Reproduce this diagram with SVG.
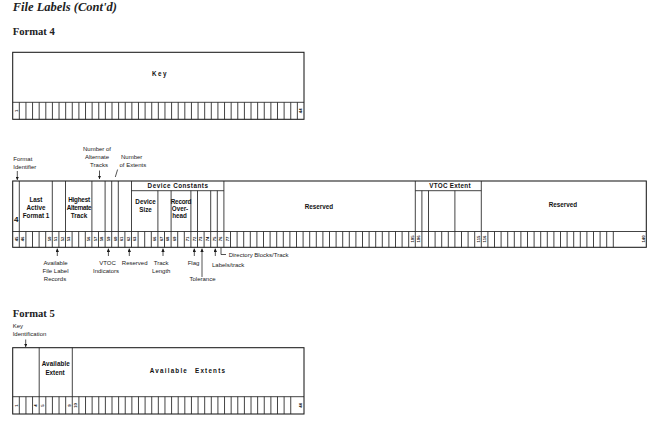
<svg xmlns="http://www.w3.org/2000/svg" width="658" height="444" viewBox="0 0 658 444">
<defs>
<marker id="ah" viewBox="0 0 6 6" refX="6" refY="3" markerWidth="3.4" markerHeight="3.4" orient="auto" markerUnits="userSpaceOnUse"><path d="M0 0L6 3L0 6z" fill="#1a1a1a"/></marker>
<style>
.bd{stroke:#1a1a1a;stroke-width:1.05;fill:none}
.ln{stroke:#222;stroke-width:0.85;fill:none}
.ar{stroke:#1a1a1a;stroke-width:0.75;fill:none}
.lbl{font-family:"Liberation Sans",Arial,sans-serif;font-weight:bold;font-size:6.3px;fill:#111;text-anchor:middle}
.sp{letter-spacing:1.4px}
.ann{font-family:"Liberation Sans",Arial,sans-serif;font-size:6px;fill:#1a1a1a}
.c{text-anchor:middle}
.num{font-family:"Liberation Sans",Arial,sans-serif;font-weight:bold;font-size:4.2px;fill:#222;text-anchor:middle;dominant-baseline:central}
.h1{font-family:"Liberation Serif","Times New Roman",serif;font-style:italic;font-weight:bold;font-size:12.5px;fill:#222}
.h2{font-family:"Liberation Serif","Times New Roman",serif;font-weight:bold;font-size:10.6px;fill:#222}
</style>
</defs>
<rect width="658" height="444" fill="#fff"/>

<text class="h1" x="12.7" y="10.5">File Labels (Cont'd)</text>
<text class="h2" x="12.7" y="35">Format 4</text>
<text class="h2" x="12.7" y="316.5">Format 5</text>

<!-- Format 4 key record -->
<g id="f4-key">
<rect class="bd" x="12.7" y="52.3" width="291.3" height="67"/>
<line class="ln" x1="12.7" y1="102.3" x2="304" y2="102.3"/>
<path class="ln" d="M19.32 102.3v17m6.62-17v17m6.62-17v17m6.62-17v17m6.62-17v17m6.62-17v17m6.62-17v17m6.62-17v17m6.62-17v17m6.62-17v17m6.62-17v17m6.62-17v17m6.62-17v17m6.62-17v17m6.62-17v17m6.62-17v17m6.62-17v17m6.62-17v17m6.62-17v17m6.62-17v17m6.62-17v17m6.62-17v17m6.62-17v17m6.62-17v17m6.62-17v17m6.62-17v17m6.62-17v17m6.62-17v17m6.62-17v17m6.62-17v17m6.62-17v17m6.62-17v17m6.62-17v17m6.62-17v17m6.62-17v17m6.62-17v17m6.62-17v17m6.62-17v17m6.62-17v17m6.62-17v17m6.62-17v17m6.62-17v17m6.62-17v17"/>
<text class="lbl sp" x="160" y="75.5">Key</text>
<text class="num" transform="translate(16,110.8) rotate(-90)">1</text>
<text class="num" transform="translate(300.7,110.8) rotate(-90)">44</text>
</g>

<!-- Format 4 data record -->
<g id="f4-record">
<rect class="bd" x="12.7" y="181" width="633.6" height="66.3"/>
<line class="ln" x1="12.7" y1="231.5" x2="646.3" y2="231.5"/>
<path class="ln" d="M19.3 231.5v15.8m6.6-15.8v15.8m6.6-15.8v15.8m6.6-15.8v15.8m6.6-15.8v15.8m6.6-15.8v15.8m6.6-15.8v15.8m6.6-15.8v15.8m6.6-15.8v15.8m6.6-15.8v15.8m6.6-15.8v15.8m6.6-15.8v15.8m6.6-15.8v15.8m6.6-15.8v15.8m6.6-15.8v15.8m6.6-15.8v15.8m6.6-15.8v15.8m6.6-15.8v15.8m6.6-15.8v15.8m6.6-15.8v15.8m6.6-15.8v15.8m6.6-15.8v15.8m6.6-15.8v15.8m6.6-15.8v15.8m6.6-15.8v15.8m6.6-15.8v15.8m6.6-15.8v15.8m6.6-15.8v15.8m6.6-15.8v15.8m6.6-15.8v15.8m6.6-15.8v15.8m6.6-15.8v15.8m6.6-15.8v15.8m6.6-15.8v15.8m6.6-15.8v15.8m6.6-15.8v15.8m6.6-15.8v15.8m6.6-15.8v15.8m6.6-15.8v15.8m6.6-15.8v15.8m6.6-15.8v15.8m6.6-15.8v15.8m6.6-15.8v15.8m6.6-15.8v15.8m6.6-15.8v15.8m6.6-15.8v15.8m6.6-15.8v15.8m6.6-15.8v15.8m6.6-15.8v15.8m6.6-15.8v15.8m6.6-15.8v15.8m6.6-15.8v15.8m6.6-15.8v15.8m6.6-15.8v15.8m6.6-15.8v15.8m6.6-15.8v15.8m6.6-15.8v15.8m6.6-15.8v15.8m6.6-15.8v15.8m6.6-15.8v15.8m6.6-15.8v15.8m6.6-15.8v15.8m6.6-15.8v15.8m6.6-15.8v15.8m6.6-15.8v15.8m6.6-15.8v15.8m6.6-15.8v15.8m6.6-15.8v15.8m6.6-15.8v15.8m6.6-15.8v15.8m6.6-15.8v15.8m6.6-15.8v15.8m6.6-15.8v15.8m6.6-15.8v15.8m6.6-15.8v15.8m6.6-15.8v15.8m6.6-15.8v15.8m6.6-15.8v15.8m6.6-15.8v15.8m6.6-15.8v15.8m6.6-15.8v15.8m6.6-15.8v15.8m6.6-15.8v15.8m6.6-15.8v15.8m6.6-15.8v15.8m6.6-15.8v15.8m6.6-15.8v15.8m6.6-15.8v15.8m6.6-15.8v15.8m6.6-15.8v15.8m6.6-15.8v15.8"/>
<g class="num">
<text transform="translate(16,239) rotate(-90)">45</text>
<text transform="translate(22.6,239) rotate(-90)">46</text>
<text transform="translate(49,239) rotate(-90)">50</text>
<text transform="translate(55.6,239) rotate(-90)">51</text>
<text transform="translate(62.2,239) rotate(-90)">52</text>
<text transform="translate(68.8,239) rotate(-90)">53</text>
<text transform="translate(88.6,239) rotate(-90)">56</text>
<text transform="translate(95.2,239) rotate(-90)">57</text>
<text transform="translate(101.8,239) rotate(-90)">58</text>
<text transform="translate(108.4,239) rotate(-90)">59</text>
<text transform="translate(115,239) rotate(-90)">60</text>
<text transform="translate(121.6,239) rotate(-90)">61</text>
<text transform="translate(128.2,239) rotate(-90)">62</text>
<text transform="translate(134.8,239) rotate(-90)">63</text>
<text transform="translate(154.6,239) rotate(-90)">66</text>
<text transform="translate(161.2,239) rotate(-90)">67</text>
<text transform="translate(167.8,239) rotate(-90)">68</text>
<text transform="translate(174.4,239) rotate(-90)">69</text>
<text transform="translate(187.6,239) rotate(-90)">71</text>
<text transform="translate(194.2,239) rotate(-90)">72</text>
<text transform="translate(200.8,239) rotate(-90)">73</text>
<text transform="translate(207.4,239) rotate(-90)">74</text>
<text transform="translate(214,239) rotate(-90)">75</text>
<text transform="translate(220.6,239) rotate(-90)">76</text>
<text transform="translate(227.2,239) rotate(-90)">77</text>
<text transform="translate(412,239) rotate(-90)">105</text>
<text transform="translate(418.6,239) rotate(-90)">106</text>
<text transform="translate(478,239) rotate(-90)">115</text>
<text transform="translate(484.6,239) rotate(-90)">116</text>
<text transform="translate(643,239) rotate(-90)">140</text>
</g>
</g>

<g id="f4-format-id">
<line class="ln" x1="19.3" y1="181" x2="19.3" y2="231.5"/>
<text class="lbl" x="16.2" y="222" style="font-size:8px">4</text>
</g>
<g id="f4-last-active">
<line class="ln" x1="52.3" y1="181" x2="52.3" y2="231.5"/>
<text class="lbl" x="36" y="201.5">Last</text>
<text class="lbl" x="36" y="209.7">Active</text>
<text class="lbl" x="36" y="217.9">Format 1</text>
</g>
<g id="f4-avail-records">
<line class="ln" x1="65.5" y1="181" x2="65.5" y2="231.5"/>
</g>
<g id="f4-highest-alt">
<line class="ln" x1="91.9" y1="181" x2="91.9" y2="231.5"/>
<text class="lbl" x="79" y="201.5" style="letter-spacing:-0.2px">Highest</text>
<text class="lbl" x="79" y="209.7" style="letter-spacing:-0.3px">Alternate</text>
<text class="lbl" x="79" y="217.9">Track</text>
</g>
<g id="f4-num-alt">
<line class="ln" x1="105.1" y1="181" x2="105.1" y2="231.5"/>
</g>
<g id="f4-vtoc-ind">
<line class="ln" x1="111.7" y1="181" x2="111.7" y2="231.5"/>
</g>
<g id="f4-num-ext">
<line class="ln" x1="118.3" y1="181" x2="118.3" y2="231.5"/>
</g>
<g id="f4-reserved1">
<line class="ln" x1="131.5" y1="181" x2="131.5" y2="231.5"/>
</g>
<g id="f4-device-constants">
<line class="ln" x1="223.9" y1="181" x2="223.9" y2="231.5"/>
<line class="ln" x1="131.5" y1="190.7" x2="223.9" y2="190.7"/>
<text class="lbl" x="178" y="188" style="letter-spacing:0.5px">Device Constants</text>
<path class="ln" d="M157.9 190.7V231.5M171.1 190.7V231.5M190.9 190.7V231.5M197.5 190.7V231.5M210.7 190.7V231.5M217.3 190.7V231.5"/>
<text class="lbl" x="145.5" y="204">Device</text>
<text class="lbl" x="145.5" y="212.3">Size</text>
<text class="lbl" x="181" y="204" style="letter-spacing:-0.2px">Record</text>
<text class="lbl" x="180" y="211.3">Over-</text>
<text class="lbl" x="179.5" y="218.3">head</text>
</g>
<g id="f4-reserved2">
<line class="ln" x1="415.3" y1="181" x2="415.3" y2="231.5"/>
<text class="lbl" x="319" y="209">Reserved</text>
</g>
<g id="f4-vtoc-extent">
<line class="ln" x1="481.3" y1="181" x2="481.3" y2="231.5"/>
<line class="ln" x1="415.3" y1="190.7" x2="481.3" y2="190.7"/>
<text class="lbl" x="450" y="188" style="letter-spacing:0.3px">VTOC Extent</text>
<path class="ln" d="M421.9 190.7V231.5M428.5 190.7V231.5M454.9 190.7V231.5"/>
</g>
<g id="f4-reserved3">
<text class="lbl" x="563" y="207.3">Reserved</text>
</g>

<!-- Format 5 -->
<g id="f5-record">
<rect class="bd" x="12.7" y="347.7" width="291.3" height="66.3"/>
<line class="ln" x1="12.7" y1="396.7" x2="304" y2="396.7"/>
<path class="ln" d="M19.32 396.7v17.3m6.62-17.3v17.3m6.62-17.3v17.3m6.62-17.3v17.3m6.62-17.3v17.3m6.62-17.3v17.3m6.62-17.3v17.3m6.62-17.3v17.3m6.62-17.3v17.3m6.62-17.3v17.3m6.62-17.3v17.3m6.62-17.3v17.3m6.62-17.3v17.3m6.62-17.3v17.3m6.62-17.3v17.3m6.62-17.3v17.3m6.62-17.3v17.3m6.62-17.3v17.3m6.62-17.3v17.3m6.62-17.3v17.3m6.62-17.3v17.3m6.62-17.3v17.3m6.62-17.3v17.3m6.62-17.3v17.3m6.62-17.3v17.3m6.62-17.3v17.3m6.62-17.3v17.3m6.62-17.3v17.3m6.62-17.3v17.3m6.62-17.3v17.3m6.62-17.3v17.3m6.62-17.3v17.3m6.62-17.3v17.3m6.62-17.3v17.3m6.62-17.3v17.3m6.62-17.3v17.3m6.62-17.3v17.3m6.62-17.3v17.3m6.62-17.3v17.3m6.62-17.3v17.3m6.62-17.3v17.3m6.62-17.3v17.3"/>
<g class="num">
<text transform="translate(16,405.5) rotate(-90)">1</text>
<text transform="translate(35.9,405.5) rotate(-90)">4</text>
<text transform="translate(42.5,405.5) rotate(-90)">5</text>
<text transform="translate(69,405.5) rotate(-90)">9</text>
<text transform="translate(75.6,405.5) rotate(-90)">10</text>
<text transform="translate(300.7,405.5) rotate(-90)">44</text>
</g>
</g>
<g id="f5-key-id">
<line class="ln" x1="39.2" y1="347.7" x2="39.2" y2="396.7"/>
</g>
<g id="f5-avail-extent">
<line class="ln" x1="72.3" y1="347.7" x2="72.3" y2="396.7"/>
<text class="lbl" x="55.8" y="366.3" style="letter-spacing:0.1px">Available</text>
<text class="lbl" x="55" y="374.6">Extent</text>
</g>
<g id="f5-avail-extents">
<text class="lbl" x="188" y="373.3" style="letter-spacing:1.2px;word-spacing:4px">Available Extents</text>
</g>

<!-- annotation labels -->
<g id="annotations" class="ann">
<text x="13.3" y="161">Format</text>
<text x="13.3" y="169">Identifier</text>
<text class="c" x="97" y="150.7">Number of</text>
<text class="c" x="97" y="159.3">Alternate</text>
<text class="c" x="99" y="167.3">Tracks</text>
<text class="c" x="131.7" y="159.3">Number</text>
<text x="119.5" y="167.3">of Extents</text>
<text class="c" x="55.5" y="264.7">Available</text>
<text class="c" x="55.5" y="272.9">File Label</text>
<text class="c" x="55" y="281.2">Records</text>
<text class="c" x="107.5" y="264.7">VTOC</text>
<text class="c" x="106" y="272.9">Indicators</text>
<text class="c" x="134.7" y="264.7">Reserved</text>
<text class="c" x="161.2" y="264.7">Track</text>
<text class="c" x="161.3" y="272.9">Length</text>
<text class="c" x="193.5" y="264.7">Flag</text>
<text class="c" x="202.5" y="281.3">Tolerance</text>
<text x="212" y="267">Labels/track</text>
<text x="228.7" y="256.5">Directory Blocks/Track</text>
<text x="12.7" y="328">Key</text>
<text x="12.7" y="336.3">Identification</text>
</g>

<!-- connectors -->
<g id="connectors" class="ar">
<line x1="17.3" y1="171" x2="17.3" y2="180" marker-end="url(#ah)"/>
<line x1="99.5" y1="170.5" x2="99.5" y2="179" marker-end="url(#ah)"/>
<line x1="115.3" y1="177" x2="117.6" y2="169.5"/>
<line x1="57.3" y1="256" x2="57.3" y2="248.5" marker-end="url(#ah)"/>
<line x1="108.4" y1="256" x2="108.4" y2="248.5" marker-end="url(#ah)"/>
<line x1="129.3" y1="256" x2="129.3" y2="248.5" marker-end="url(#ah)"/>
<line x1="163" y1="256" x2="163" y2="248.5" marker-end="url(#ah)"/>
<line x1="194.3" y1="256" x2="194.3" y2="248.5" marker-end="url(#ah)"/>
<line x1="202" y1="277" x2="202" y2="248.5" marker-end="url(#ah)"/>
<line x1="215.3" y1="256" x2="215.3" y2="248.5" marker-end="url(#ah)"/>
<polyline points="221,248 221,254.5 226,254.5"/>
<line x1="25.7" y1="339.5" x2="25.7" y2="347" marker-end="url(#ah)"/>
</g>
</svg>
